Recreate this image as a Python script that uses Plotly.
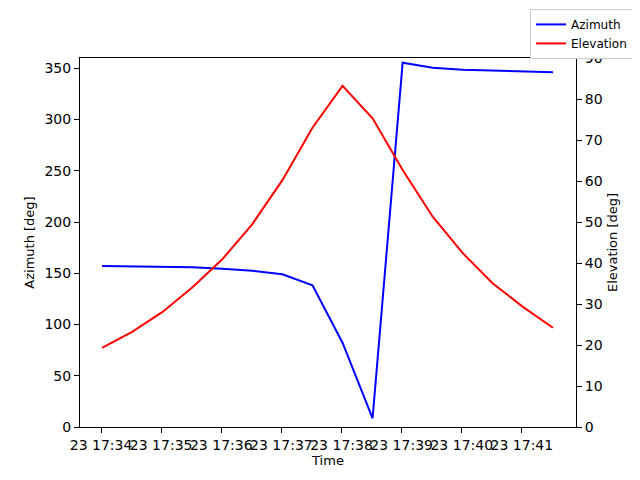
import plotly.graph_objects as go

# Serie temporal de paso: un punto cada 30 s
times = [
    "2024-01-23 17:34:01", "2024-01-23 17:34:31", "2024-01-23 17:35:01", "2024-01-23 17:35:31",
    "2024-01-23 17:36:01", "2024-01-23 17:36:31", "2024-01-23 17:37:01", "2024-01-23 17:37:31",
    "2024-01-23 17:38:01", "2024-01-23 17:38:31", "2024-01-23 17:39:01", "2024-01-23 17:39:31",
    "2024-01-23 17:40:01", "2024-01-23 17:40:31", "2024-01-23 17:41:01", "2024-01-23 17:41:31",
]
azimuth = [157.1, 156.8, 156.4, 155.8, 154.4, 152.5, 149.0, 138.2,
           82.2, 8.5, 355.4, 350.5, 348.6, 347.6, 346.6, 346.0]
elevation = [19.3, 23.2, 28.0, 34.0, 40.9, 49.5, 60.2, 73.0,
             83.2, 75.3, 62.7, 51.3, 42.4, 35.0, 29.3, 24.2]

tick_times = [
    "2024-01-23 17:34", "2024-01-23 17:35", "2024-01-23 17:36", "2024-01-23 17:37",
    "2024-01-23 17:38", "2024-01-23 17:39", "2024-01-23 17:40", "2024-01-23 17:41",
]
tick_text = ["23 17:34", "23 17:35", "23 17:36", "23 17:37",
             "23 17:38", "23 17:39", "23 17:40", "23 17:41"]
az_ticks = [0, 50, 100, 150, 200, 250, 300, 350]
el_ticks = [0, 10, 20, 30, 40, 50, 60, 70, 80, 90]

fig = go.Figure()
fig.add_trace(go.Scatter(x=times, y=azimuth, mode="lines", name="Azimuth",
                         line=dict(color="blue", width=2)))
fig.add_trace(go.Scatter(x=times, y=elevation, mode="lines", name="Elevation",
                         line=dict(color="red", width=2), yaxis="y2"))

FONT = dict(family="DejaVu Sans", size=13, color="black")
TICK_FONT = dict(family="DejaVu Sans", size=14, color="black")

axis_common = dict(showline=True, linecolor="black", linewidth=1, ticks="outside",
                   ticklen=5, tickcolor="black", showgrid=False, zeroline=False,
                   tickfont=TICK_FONT)

# la página añade 8 px de margen al body: figura 632x472
fig.update_layout(
    width=632, height=472,
    margin=dict(l=72, r=64, t=50, b=53, autoexpand=False),
    paper_bgcolor="white", plot_bgcolor="white",
    font=FONT,
    xaxis=dict(
        **axis_common, mirror=True,
        range=["2024-01-23 17:33:39", "2024-01-23 17:41:54"],
        tickvals=tick_times, ticktext=tick_text, tickangle=0,
        title=dict(text="Time", standoff=4, font=FONT),
    ),
    yaxis=dict(
        **axis_common, range=[0, 360], tickvals=az_ticks,
        title=dict(text="Azimuth [deg]", standoff=6, font=FONT),
    ),
    yaxis2=dict(
        **axis_common, range=[0, 90], tickvals=el_ticks,
        overlaying="y", side="right",
        title=dict(text="Elevation [deg]", standoff=6, font=FONT),
    ),
    legend=dict(
        x=1.115, y=1.133, xanchor="right", yanchor="top",
        bordercolor="#cccccc", borderwidth=1, bgcolor="white",
        font=dict(family="DejaVu Sans", size=12, color="black"),
        tracegroupgap=0, itemwidth=30,
    ),
    showlegend=True,
)

fig.write_html("out.html")
